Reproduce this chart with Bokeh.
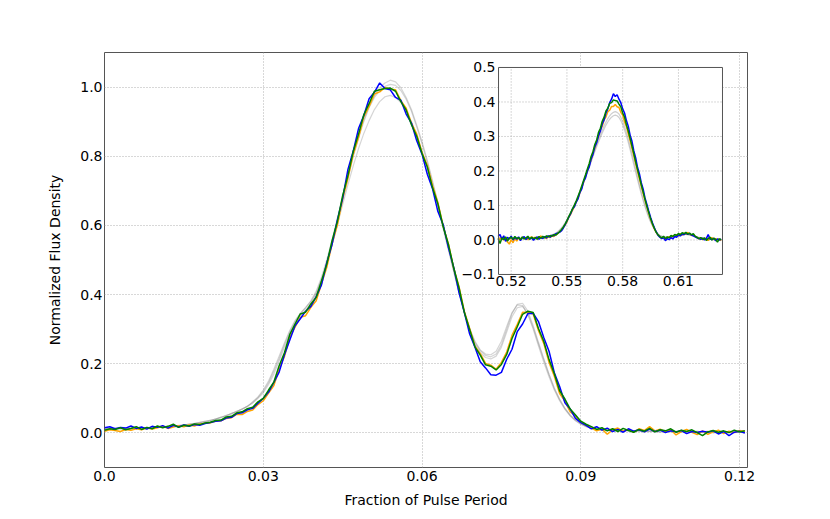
from bokeh.plotting import figure
from bokeh.models import Range1d
from bokeh.embed import file_html
from bokeh.resources import INLINE
from bokeh.core.properties import value

FONT = "DejaVu Sans"

# ---------------- data: main panel (phase bins start 0.000, step 0.001) ----------------
main_phase_start = 0.0
main_phase_step = 0.001

main_blue = [
    0.015, 0.018, 0.012, 0.016, 0.014, 0.020, 0.013, 0.017, 0.011, 0.019,
    0.016, 0.021, 0.014, 0.022, 0.017, 0.023, 0.019, 0.024, 0.022, 0.027,
    0.030, 0.034, 0.035, 0.043, 0.045, 0.056, 0.058, 0.067, 0.071, 0.086,
    0.100, 0.118, 0.146, 0.176, 0.226, 0.268, 0.310, 0.330, 0.352, 0.366,
    0.394, 0.428, 0.492, 0.545, 0.616, 0.678, 0.762, 0.815, 0.880, 0.918,
    0.966, 0.985, 1.012, 0.996, 0.992, 0.970, 0.962, 0.922, 0.896, 0.845,
    0.806, 0.748, 0.705, 0.640, 0.602, 0.535, 0.478, 0.405, 0.348, 0.286,
    0.248, 0.206, 0.188, 0.168, 0.167, 0.175, 0.213, 0.242, 0.293, 0.315,
    0.345, 0.346, 0.322, 0.276, 0.236, 0.174, 0.134, 0.087, 0.069, 0.042,
    0.030, 0.022, 0.012, 0.018, 0.008, 0.014, 0.004, 0.010, 0.002, 0.012,
    0.005, 0.009, 0.003, 0.011, 0.004, 0.008, 0.001, 0.006, 0.003, 0.007,
    -0.002, 0.004, 0.001, 0.005, 0.002, 0.006, -0.003, 0.004, -0.008, 0.002,
    0.005, 0.000,
]
main_green = [
    0.008, 0.012, 0.010, 0.015, 0.009, 0.013, 0.018, 0.010, 0.016, 0.012,
    0.020, 0.015, 0.019, 0.025, 0.016, 0.022, 0.020, 0.026, 0.024, 0.029,
    0.031, 0.036, 0.037, 0.046, 0.048, 0.058, 0.061, 0.070, 0.074, 0.090,
    0.100, 0.124, 0.147, 0.194, 0.232, 0.284, 0.315, 0.344, 0.349, 0.373,
    0.392, 0.439, 0.488, 0.556, 0.611, 0.686, 0.744, 0.814, 0.864, 0.920,
    0.952, 0.988, 0.992, 0.996, 0.997, 0.988, 0.958, 0.934, 0.891, 0.858,
    0.808, 0.769, 0.708, 0.662, 0.596, 0.544, 0.476, 0.419, 0.348, 0.299,
    0.249, 0.225, 0.197, 0.193, 0.182, 0.198, 0.227, 0.273, 0.307, 0.343,
    0.352, 0.348, 0.302, 0.265, 0.212, 0.171, 0.122, 0.098, 0.069, 0.052,
    0.034, 0.025, 0.018, 0.010, 0.015, 0.006, 0.012, 0.004, 0.013, 0.007,
    0.002, 0.010, 0.005, 0.013, 0.003, 0.009, 0.006, 0.012, 0.002, 0.008,
    0.004, 0.009, 0.001, -0.008, 0.003, 0.007, 0.002, 0.006, 0.001, 0.008,
    0.003, 0.006,
]
main_orange = [
    0.005, 0.009, 0.007, 0.004, 0.010, 0.008, 0.012, 0.009, 0.014, 0.011,
    0.015, 0.019, 0.013, 0.017, 0.021, 0.018, 0.023, 0.020, 0.026, 0.028,
    0.029, 0.034, 0.035, 0.042, 0.044, 0.054, 0.053, 0.062, 0.066, 0.082,
    0.093, 0.115, 0.137, 0.184, 0.221, 0.276, 0.306, 0.334, 0.339, 0.363,
    0.382, 0.431, 0.479, 0.546, 0.601, 0.676, 0.736, 0.806, 0.854, 0.914,
    0.944, 0.980, 0.986, 0.999, 0.994, 0.992, 0.961, 0.939, 0.896, 0.864,
    0.811, 0.774, 0.714, 0.666, 0.598, 0.546, 0.476, 0.422, 0.351, 0.302,
    0.251, 0.229, 0.201, 0.196, 0.184, 0.204, 0.234, 0.282, 0.314, 0.349,
    0.348, 0.344, 0.296, 0.259, 0.204, 0.164, 0.114, 0.092, 0.061, 0.049,
    0.030, 0.022, 0.014, 0.006, 0.011, -0.004, 0.009, 0.014, 0.005, 0.010,
    0.002, 0.012, 0.007, 0.018, 0.006, 0.011, 0.003, 0.009, -0.006, 0.004,
    0.010, 0.002, -0.005, 0.006, -0.004, 0.003, 0.008, -0.002, 0.005, 0.001,
    0.007, 0.004,
]
main_gray_1 = [
    0.012, 0.010, 0.014, 0.011, 0.013, 0.012, 0.015, 0.013, 0.016, 0.015,
    0.018, 0.017, 0.020, 0.019, 0.022, 0.023, 0.025, 0.027, 0.030, 0.033,
    0.036, 0.040, 0.045, 0.050, 0.056, 0.062, 0.069, 0.077, 0.088, 0.102,
    0.120, 0.145, 0.178, 0.215, 0.255, 0.292, 0.322, 0.345, 0.362, 0.382,
    0.410, 0.450, 0.500, 0.558, 0.620, 0.682, 0.745, 0.805, 0.858, 0.905,
    0.945, 0.975, 0.998, 1.012, 1.020, 1.015, 0.998, 0.970, 0.935, 0.890,
    0.842, 0.788, 0.728, 0.665, 0.600, 0.535, 0.470, 0.408, 0.350, 0.300,
    0.262, 0.238, 0.224, 0.220, 0.228, 0.255, 0.300, 0.345, 0.372, 0.375,
    0.352, 0.310, 0.262, 0.215, 0.170, 0.130, 0.098, 0.072, 0.052, 0.038,
    0.028, 0.020, 0.015, 0.012, 0.010, 0.008, 0.009, 0.007, 0.008, 0.006,
    0.007, 0.005, 0.006, 0.004, 0.006, 0.005, 0.004, 0.006, 0.003, 0.005,
    0.004, 0.003, 0.005, 0.002, 0.004, 0.003, 0.002, 0.004, 0.001, 0.003,
    0.002, 0.003,
]
main_gray_2 = [
    0.010, 0.013, 0.011, 0.014, 0.012, 0.015, 0.013, 0.016, 0.014, 0.017,
    0.016, 0.019, 0.018, 0.021, 0.020, 0.024, 0.024, 0.028, 0.029, 0.034,
    0.035, 0.041, 0.044, 0.051, 0.055, 0.063, 0.068, 0.078, 0.086, 0.100,
    0.116, 0.140, 0.170, 0.208, 0.248, 0.286, 0.316, 0.338, 0.355, 0.375,
    0.402, 0.442, 0.492, 0.550, 0.612, 0.675, 0.738, 0.798, 0.852, 0.900,
    0.940, 0.970, 0.990, 1.002, 1.008, 1.005, 0.990, 0.965, 0.930, 0.885,
    0.836, 0.782, 0.722, 0.660, 0.596, 0.532, 0.468, 0.406, 0.348, 0.296,
    0.258, 0.232, 0.218, 0.214, 0.222, 0.248, 0.292, 0.336, 0.362, 0.366,
    0.345, 0.305, 0.258, 0.212, 0.168, 0.128, 0.096, 0.070, 0.050, 0.036,
    0.026, 0.019, 0.014, 0.011, 0.009, 0.010, 0.007, 0.009, 0.006, 0.008,
    0.005, 0.007, 0.004, 0.006, 0.005, 0.003, 0.006, 0.004, 0.005, 0.003,
    0.005, 0.002, 0.004, 0.003, 0.005, 0.001, 0.003, 0.002, 0.004, 0.002,
    0.003, 0.001,
]
main_gray_3 = [
    0.013, 0.011, 0.012, 0.014, 0.011, 0.013, 0.014, 0.012, 0.015, 0.014,
    0.017, 0.016, 0.019, 0.020, 0.021, 0.022, 0.026, 0.026, 0.031, 0.032,
    0.037, 0.039, 0.046, 0.049, 0.057, 0.061, 0.070, 0.076, 0.090, 0.104,
    0.124, 0.150, 0.184, 0.222, 0.260, 0.296, 0.325, 0.346, 0.362, 0.380,
    0.405, 0.442, 0.490, 0.545, 0.602, 0.660, 0.718, 0.772, 0.822, 0.866,
    0.903, 0.935, 0.958, 0.972, 0.976, 0.970, 0.955, 0.932, 0.900, 0.860,
    0.815, 0.765, 0.710, 0.652, 0.590, 0.528, 0.466, 0.405, 0.350, 0.302,
    0.265, 0.240, 0.228, 0.226, 0.236, 0.265, 0.308, 0.348, 0.370, 0.368,
    0.342, 0.300, 0.252, 0.205, 0.162, 0.124, 0.093, 0.068, 0.049, 0.035,
    0.025, 0.018, 0.013, 0.010, 0.008, 0.009, 0.006, 0.008, 0.005, 0.007,
    0.004, 0.006, 0.003, 0.005, 0.004, 0.002, 0.005, 0.003, 0.004, 0.002,
    0.004, 0.001, 0.003, 0.002, 0.004, 0.000, 0.002, 0.001, 0.003, 0.001,
    0.002, 0.000,
]

# ---------------- data: inset panel (phase bins start 0.513, step 0.001) ----------------
inset_phase_start = 0.513
inset_phase_step = 0.001

inset_blue = [
    0.010, 0.016, 0.002, 0.012, -0.004, 0.008, 0.003, 0.011, 0.000, 0.007,
    0.002, 0.009, -0.002, 0.006, 0.010, 0.001, 0.008, 0.003, 0.006, -0.001,
    0.005, 0.009, 0.002, 0.007, 0.004, 0.010, 0.006, 0.012, 0.008, 0.014,
    0.012, 0.018, 0.020, 0.022, 0.026, 0.034, 0.044, 0.055, 0.066, 0.076,
    0.090, 0.096, 0.110, 0.120, 0.138, 0.148, 0.170, 0.180, 0.200, 0.212,
    0.234, 0.248, 0.270, 0.282, 0.302, 0.316, 0.336, 0.348, 0.368, 0.380,
    0.398, 0.408, 0.424, 0.416, 0.421, 0.408, 0.398, 0.380, 0.368, 0.346,
    0.330, 0.304, 0.286, 0.258, 0.238, 0.210, 0.192, 0.166, 0.148, 0.122,
    0.104, 0.084, 0.066, 0.050, 0.036, 0.024, 0.014, 0.008, 0.004, 0.006,
    -0.002, 0.004, 0.001, 0.007, 0.003, 0.010, 0.008, 0.014, 0.012, 0.017,
    0.015, 0.020, 0.016, 0.019, 0.014, 0.012, 0.009, 0.006, 0.004, 0.002,
    0.005, 0.000, 0.004, 0.016, 0.003, 0.001, 0.005, -0.002, 0.003, 0.000,
    0.002,
]
inset_green = [
    0.004, -0.010, 0.006, 0.001, 0.009, -0.003, 0.005, 0.008, 0.002, 0.010,
    0.004, 0.007, 0.001, 0.009, 0.003, 0.006, 0.011, 0.002, 0.008, 0.004,
    0.007, 0.002, 0.010, 0.005, 0.011, 0.006, 0.012, 0.009, 0.013, 0.011,
    0.016, 0.014, 0.019, 0.024, 0.030, 0.037, 0.046, 0.056, 0.068, 0.079,
    0.090, 0.101, 0.113, 0.127, 0.141, 0.157, 0.173, 0.189, 0.206, 0.222,
    0.242, 0.256, 0.277, 0.290, 0.312, 0.324, 0.344, 0.356, 0.374, 0.382,
    0.396, 0.398, 0.406, 0.404, 0.403, 0.394, 0.386, 0.368, 0.356, 0.334,
    0.316, 0.295, 0.272, 0.250, 0.226, 0.204, 0.182, 0.160, 0.139, 0.118,
    0.098, 0.080, 0.062, 0.047, 0.034, 0.023, 0.015, 0.010, 0.006, 0.011,
    0.004, 0.009, 0.006, 0.013, 0.010, 0.016, 0.013, 0.019, 0.015, 0.021,
    0.018, 0.022, 0.017, 0.020, 0.015, 0.018, 0.011, 0.008, 0.004, 0.007,
    0.002, 0.006, -0.001, 0.004, 0.008, 0.000, 0.005, 0.002, -0.006, 0.003,
    0.001,
]
inset_orange = [
    0.006, 0.002, 0.008, 0.000, 0.005, -0.006, -0.012, 0.001, -0.008, 0.004,
    -0.003, 0.006, 0.002, 0.008, 0.003, 0.007, 0.001, 0.006, 0.009, 0.004,
    0.008, 0.003, 0.007, 0.012, 0.005, 0.009, 0.004, 0.010, 0.007, 0.012,
    0.010, 0.015, 0.018, 0.023, 0.028, 0.035, 0.043, 0.052, 0.066, 0.074,
    0.086, 0.097, 0.110, 0.121, 0.137, 0.152, 0.168, 0.185, 0.200, 0.217,
    0.232, 0.253, 0.266, 0.287, 0.299, 0.319, 0.330, 0.348, 0.357, 0.372,
    0.376, 0.387, 0.387, 0.393, 0.386, 0.384, 0.370, 0.362, 0.342, 0.329,
    0.308, 0.288, 0.266, 0.244, 0.221, 0.199, 0.177, 0.156, 0.135, 0.115,
    0.096, 0.078, 0.061, 0.046, 0.033, 0.022, 0.014, 0.009, 0.005, 0.008,
    0.003, 0.007, 0.010, 0.006, 0.012, 0.009, 0.015, 0.011, 0.018, 0.014,
    0.020, 0.016, 0.022, 0.017, 0.013, 0.016, 0.010, 0.007, 0.003, 0.006,
    0.001, 0.005, 0.002, -0.001, 0.004, 0.007, 0.001, 0.004, 0.000, 0.003,
    -0.002,
]
inset_gray_1 = [
    0.006, 0.005, 0.007, 0.004, 0.006, 0.005, 0.003, 0.005, 0.004, 0.006,
    0.005, 0.006, 0.004, 0.007, 0.005, 0.006, 0.005, 0.007, 0.006, 0.005,
    0.007, 0.006, 0.008, 0.007, 0.009, 0.008, 0.010, 0.011, 0.012, 0.014,
    0.016, 0.019, 0.022, 0.027, 0.032, 0.039, 0.047, 0.056, 0.066, 0.077,
    0.088, 0.099, 0.111, 0.124, 0.137, 0.151, 0.166, 0.181, 0.196, 0.211,
    0.226, 0.241, 0.256, 0.270, 0.284, 0.297, 0.310, 0.322, 0.333, 0.342,
    0.350, 0.356, 0.360, 0.362, 0.360, 0.355, 0.346, 0.334, 0.319, 0.302,
    0.283, 0.262, 0.240, 0.218, 0.196, 0.174, 0.153, 0.133, 0.114, 0.096,
    0.080, 0.065, 0.052, 0.041, 0.031, 0.023, 0.017, 0.013, 0.010, 0.009,
    0.008, 0.008, 0.009, 0.010, 0.011, 0.012, 0.013, 0.014, 0.015, 0.015,
    0.016, 0.016, 0.015, 0.014, 0.013, 0.011, 0.010, 0.008, 0.007, 0.006,
    0.005, 0.005, 0.004, 0.004, 0.003, 0.003, 0.003, 0.002, 0.002, 0.002,
    0.002,
]
inset_gray_2 = [
    0.008, 0.006, 0.007, 0.005, 0.007, 0.006, 0.004, 0.006, 0.005, 0.007,
    0.006, 0.007, 0.005, 0.008, 0.006, 0.007, 0.006, 0.008, 0.007, 0.006,
    0.008, 0.007, 0.009, 0.008, 0.010, 0.009, 0.011, 0.012, 0.013, 0.015,
    0.017, 0.020, 0.024, 0.029, 0.035, 0.042, 0.050, 0.059, 0.069, 0.080,
    0.091, 0.103, 0.115, 0.128, 0.141, 0.155, 0.170, 0.185, 0.200, 0.216,
    0.231, 0.246, 0.262, 0.277, 0.291, 0.305, 0.318, 0.331, 0.342, 0.352,
    0.360, 0.366, 0.370, 0.372, 0.370, 0.365, 0.356, 0.344, 0.329, 0.312,
    0.293, 0.272, 0.250, 0.228, 0.205, 0.183, 0.161, 0.140, 0.120, 0.102,
    0.085, 0.069, 0.055, 0.043, 0.033, 0.025, 0.018, 0.014, 0.011, 0.010,
    0.009, 0.009, 0.010, 0.011, 0.012, 0.013, 0.014, 0.015, 0.016, 0.016,
    0.017, 0.017, 0.016, 0.015, 0.014, 0.012, 0.011, 0.009, 0.008, 0.007,
    0.006, 0.006, 0.005, 0.005, 0.004, 0.004, 0.003, 0.003, 0.003, 0.002,
    0.002,
]

# ---------------- axes / ticks ----------------
main_xlim = (0.0, 0.1215)
main_ylim = (-0.1, 1.1)
main_xticks = [0.0, 0.03, 0.06, 0.09, 0.12]
main_xtick_labels = ["0.0", "0.03", "0.06", "0.09", "0.12"]
main_yticks = [0.0, 0.2, 0.4, 0.6, 0.8, 1.0]
main_ytick_labels = ["0.0", "0.2", "0.4", "0.6", "0.8", "1.0"]

inset_xlim = (0.5132, 0.6337)
inset_ylim = (-0.1, 0.5)
inset_xticks = [0.52, 0.55, 0.58, 0.61]
inset_xtick_labels = ["0.52", "0.55", "0.58", "0.61"]
inset_yticks = [-0.1, 0.0, 0.1, 0.2, 0.3, 0.4, 0.5]
inset_ytick_labels = ["\u22120.1", "0.0", "0.1", "0.2", "0.3", "0.4", "0.5"]
inset_ygrid = [0.0, 0.1, 0.2, 0.3, 0.4]

x_label = "Fraction of Pulse Period"
y_label = "Normalized Flux Density"


def phases(start, step, n):
    return [round(start + step * i, 4) for i in range(n)]


# ---------------- figure ----------------
FRAME_W, FRAME_H = 643, 415
TICK_FS = "14px"
p = figure(
    frame_width=FRAME_W, frame_height=FRAME_H,
    output_backend="svg", toolbar_location=None,
    x_range=Range1d(*main_xlim), y_range=Range1d(*main_ylim),
    min_border_left=104, min_border_right=75, min_border_top=52, min_border_bottom=44,
    background_fill_color="white", border_fill_color="white",
)
p.outline_line_color = "#555555"
p.outline_line_width = 1

for ax in (p.xaxis[0], p.yaxis[0]):
    ax.axis_line_color = None
    ax.major_tick_line_color = None
    ax.minor_tick_line_color = None
    ax.major_tick_out = 0
    ax.major_tick_in = 0
    ax.minor_tick_out = 0
    ax.minor_tick_in = 0
    ax.major_label_text_font = FONT
    ax.major_label_text_font_size = TICK_FS
    ax.major_label_text_color = "black"
    ax.axis_label_text_font = FONT
    ax.axis_label_text_font_size = "14px"
    ax.axis_label_text_font_style = "normal"
    ax.axis_label_text_color = "black"

p.xaxis.ticker = main_xticks
p.xaxis.major_label_overrides = dict(zip(main_xticks, main_xtick_labels))
p.yaxis.ticker = main_yticks
p.yaxis.major_label_overrides = dict(zip(main_yticks, main_ytick_labels))
p.xaxis.axis_label = x_label
p.yaxis.axis_label = y_label
p.xaxis.major_label_standoff = 3
p.xaxis.axis_label_standoff = 8
p.yaxis.major_label_standoff = 2
p.yaxis.axis_label_standoff = 14

for g in (p.xgrid[0], p.ygrid[0]):
    g.grid_line_color = "#b0b0b0"
    g.grid_line_dash = "1 2"
    g.grid_line_width = 1

# main curves
for gy in (main_gray_1, main_gray_2, main_gray_3):
    p.line(phases(main_phase_start, main_phase_step, len(gy)), gy,
           line_color="#888888", line_alpha=0.35, line_width=1.2)
p.line(phases(main_phase_start, main_phase_step, len(main_orange)), main_orange,
       line_color="#ffa500", line_width=1.5)
p.line(phases(main_phase_start, main_phase_step, len(main_blue)), main_blue,
       line_color="#0000ff", line_width=1.5)
p.line(phases(main_phase_start, main_phase_step, len(main_green)), main_green,
       line_color="#008000", line_width=1.5)

# ---------------- inset, drawn in its own ranges inside the main frame ----------------
# inset box position as fractions of the main frame (left, right, bottom, top)
bx0, bx1, by0, by1 = 0.6128, 0.9611, 0.4651, 0.9639
sx = (inset_xlim[1] - inset_xlim[0]) / (bx1 - bx0)
sy = (inset_ylim[1] - inset_ylim[0]) / (by1 - by0)
p.extra_x_ranges = {"ix": Range1d(inset_xlim[0] - bx0 * sx, inset_xlim[0] + (1 - bx0) * sx)}
p.extra_y_ranges = {"iy": Range1d(inset_ylim[0] - by0 * sy, inset_ylim[0] + (1 - by0) * sy)}
R = dict(x_range_name="ix", y_range_name="iy")

p.quad(left=[inset_xlim[0]], right=[inset_xlim[1]], bottom=[inset_ylim[0]], top=[inset_ylim[1]],
       fill_color="white", line_color=None, **R)

# inset grid
p.segment(x0=inset_xticks, x1=inset_xticks,
          y0=[inset_ylim[0]] * len(inset_xticks), y1=[inset_ylim[1]] * len(inset_xticks),
          line_color="#b0b0b0", line_dash="1 2", line_width=1, **R)
p.segment(x0=[inset_xlim[0]] * len(inset_ygrid), x1=[inset_xlim[1]] * len(inset_ygrid),
          y0=inset_ygrid, y1=inset_ygrid,
          line_color="#b0b0b0", line_dash="1 2", line_width=1, **R)

for gy in (inset_gray_1, inset_gray_2):
    p.line(phases(inset_phase_start, inset_phase_step, len(gy)), gy,
           line_color="#888888", line_alpha=0.4, line_width=1.2, **R)
p.line(phases(inset_phase_start, inset_phase_step, len(inset_orange)), inset_orange,
       line_color="#ffa500", line_width=1.5, **R)
p.line(phases(inset_phase_start, inset_phase_step, len(inset_blue)), inset_blue,
       line_color="#0000ff", line_width=1.5, **R)
p.line(phases(inset_phase_start, inset_phase_step, len(inset_green)), inset_green,
       line_color="#008000", line_width=1.5, **R)

# inset frame on top
p.quad(left=[inset_xlim[0]], right=[inset_xlim[1]], bottom=[inset_ylim[0]], top=[inset_ylim[1]],
       fill_color=None, line_color="#555555", line_width=1, **R)

# inset tick labels
p.text(x=[inset_xlim[0]] * len(inset_yticks), y=inset_yticks, text=inset_ytick_labels,
       text_align="right", text_baseline="middle", x_offset=-3,
       text_font=value(FONT), text_font_size=TICK_FS, text_color="black", **R)
p.text(x=inset_xticks, y=[inset_ylim[0]] * len(inset_xticks), text=inset_xtick_labels,
       text_align="center", text_baseline="top", y_offset=2,
       text_font=value(FONT), text_font_size=TICK_FS, text_color="black", **R)

open("out.html", "w").write(file_html(p, INLINE))
